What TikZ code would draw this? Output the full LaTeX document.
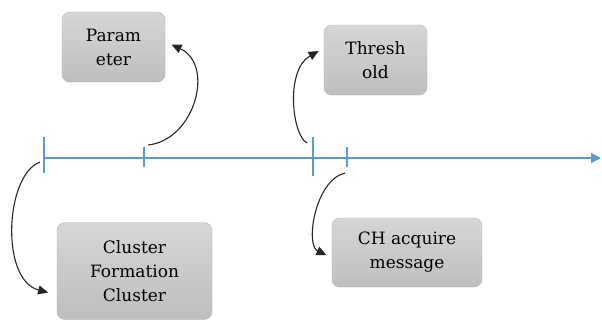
\documentclass[tikz,border=0pt]{standalone}
\usepackage{fontspec}
\setmainfont{DejaVu Serif}
\usetikzlibrary{arrows.meta}
\definecolor{boxtop}{RGB}{214,214,214}
\definecolor{boxbottom}{RGB}{190,190,190}
\definecolor{boxline}{RGB}{176,176,176}
\definecolor{axisblue}{RGB}{91,155,213}
\tikzset{
    >={Triangle[length=10pt,width=9pt]} % Default arrow tip
}
\tikzstyle{stage}=[
    draw = boxline,
    rounded corners = 8pt,
    top color = boxtop,
    bottom color = boxbottom,
    align = center,
    font = \fontsize{17}{24}\selectfont,
    inner sep = 0pt
]
\tikzstyle{bend arrow}=[->, line width = 1.1pt, black!85]
\tikzstyle{axis line}=[axisblue, line width = 1.2pt]

\begin{document}
\begin{tikzpicture}[x=1pt, y=-1pt]
    \useasboundingbox (0,0) rectangle (602,322);

    % boxes
    \node [stage, minimum width=103pt, minimum height=70pt] (param) at (113.5,47) {Param\\eter};
    \node [stage, minimum width=103pt, minimum height=70pt] (thresh) at (375.5,60) {Thresh\\old};
    \node [stage, minimum width=155pt, minimum height=97pt] (cluster) at (134.5,271) {Cluster\\Formation\\Cluster};
    \node [stage, minimum width=150pt, minimum height=69pt] (chmsg) at (407,252.5) {CH acquire\\message};

    % time line
    \coordinate (t1) at (44,158);
    \coordinate (t2) at (144,158);
    \coordinate (t3) at (313,158);
    \coordinate (t4) at (347,158);
    \coordinate (tend) at (601,158);
    \draw [axis line, -{Triangle[length=10pt,width=10pt]}] (t1) -- (tend);
    \draw [axis line] ([yshift=21pt]t1) -- ([yshift=-15pt]t1);
    \draw [axis line] ([yshift=11pt]t2) -- ([yshift=-9pt]t2);
    \draw [axis line] ([yshift=21pt]t3) -- ([yshift=-18pt]t3);
    \draw [axis line] ([yshift=11pt]t4) -- ([yshift=-9pt]t4);

    % arrows
    \coordinate (s1) at (40,162);
    \coordinate (s2) at (148,145);
    \coordinate (s3) at (307,143);
    \coordinate (s4) at (345,173);
    \draw [bend arrow, shorten >=9pt] (s1) .. controls (5,175) and (0,280) .. (cluster.197);
    \draw [bend arrow, shorten >=7pt] (s2) .. controls (195,140) and (215,65) .. (param.6);
    \draw [bend arrow, shorten >=6pt] (s3) .. controls (292,135) and (285,70) .. (thresh.167);
    \draw [bend arrow, shorten >=6pt] (s4) .. controls (315,180) and (305,245) .. (chmsg.184);
\end{tikzpicture}
\end{document}
